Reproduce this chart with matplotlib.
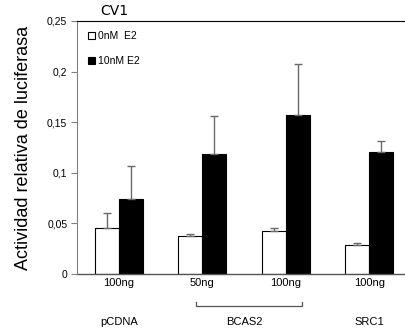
import matplotlib
matplotlib.use('Agg')
import matplotlib.pyplot as plt
import numpy as np

plt.rcParams['font.family'] = ['Liberation Sans', 'DejaVu Sans']

doses = ['100ng', '50ng', '100ng', '100ng']
constructs = ['pCDNA', 'BCAS2', 'SRC1']
construct_pos = [0, 1.5, 3]
e2_0 = [0.045, 0.038, 0.042, 0.029]
e2_0_err = [0.015, 0.0015, 0.003, 0.002]
e2_10 = [0.074, 0.119, 0.157, 0.121]
e2_10_err = [0.033, 0.037, 0.051, 0.010]

fig = plt.figure(figsize=(4.06, 3.36), dpi=100)
ax = fig.add_axes([77/406, 62/336, 329/406, 253/336])

x = np.arange(len(doses))
w = 0.287
err_kw = dict(ecolor='#6a6a6a', elinewidth=1, capsize=3, capthick=1)
ax.bar(x - w/2, e2_0, w, color='white', edgecolor='black', linewidth=0.8,
       yerr=[np.zeros(4), e2_0_err], error_kw=err_kw, label='0nM  E2')
ax.bar(x + w/2, e2_10, w, color='black', edgecolor='black', linewidth=0.8,
       yerr=[np.zeros(4), e2_10_err], error_kw=err_kw, label='10nM E2')

ax.set_xlim(-0.5, 3.44)
ax.set_ylim(0, 0.25)
ax.set_yticks([0, 0.05, 0.1, 0.15, 0.2, 0.25])
ax.set_yticklabels(['0', '0,05', '0,1', '0,15', '0,2', '0,25'], fontsize=7.5)
ax.set_xticks([])
for s in ['right', 'bottom']:
    ax.spines[s].set_visible(False)
ax.spines['left'].set_color('#808080')
ax.spines['top'].set_color('black')
ax.axhline(0, color='#555555', lw=1, clip_on=False)
ax.tick_params(axis='y', length=4, color='#808080', pad=3)

for xi, d in zip(x, doses):
    ax.text(xi, -0.0085, d, ha='center', va='center', fontsize=8)
for p, c in zip(construct_pos, constructs):
    ax.text(p, -0.047, c, ha='center', va='center', fontsize=8)

# bracket under BCAS2
bx = [1 - 0.08, 1 - 0.08, 2 + 0.2, 2 + 0.2]
by = [-0.0275, -0.032, -0.032, -0.0275]
ax.plot(bx, by, color='#555555', lw=0.9, clip_on=False)

ax.set_ylabel('Actividad relativa de luciferasa', fontsize=13, labelpad=11)
ax.text(0.113, 1.01, 'CV1', fontsize=10, family=['DejaVu Sans'], va='bottom',
        ha='center', transform=ax.transAxes)

ax.legend(loc='upper left', frameon=False, fontsize=7.5, handlelength=0.7,
          handleheight=0.7, handletextpad=0.3, labelspacing=1.5,
          borderaxespad=0.3, bbox_to_anchor=(0.01, 0.99))

fig.savefig('out.png', dpi=100)
